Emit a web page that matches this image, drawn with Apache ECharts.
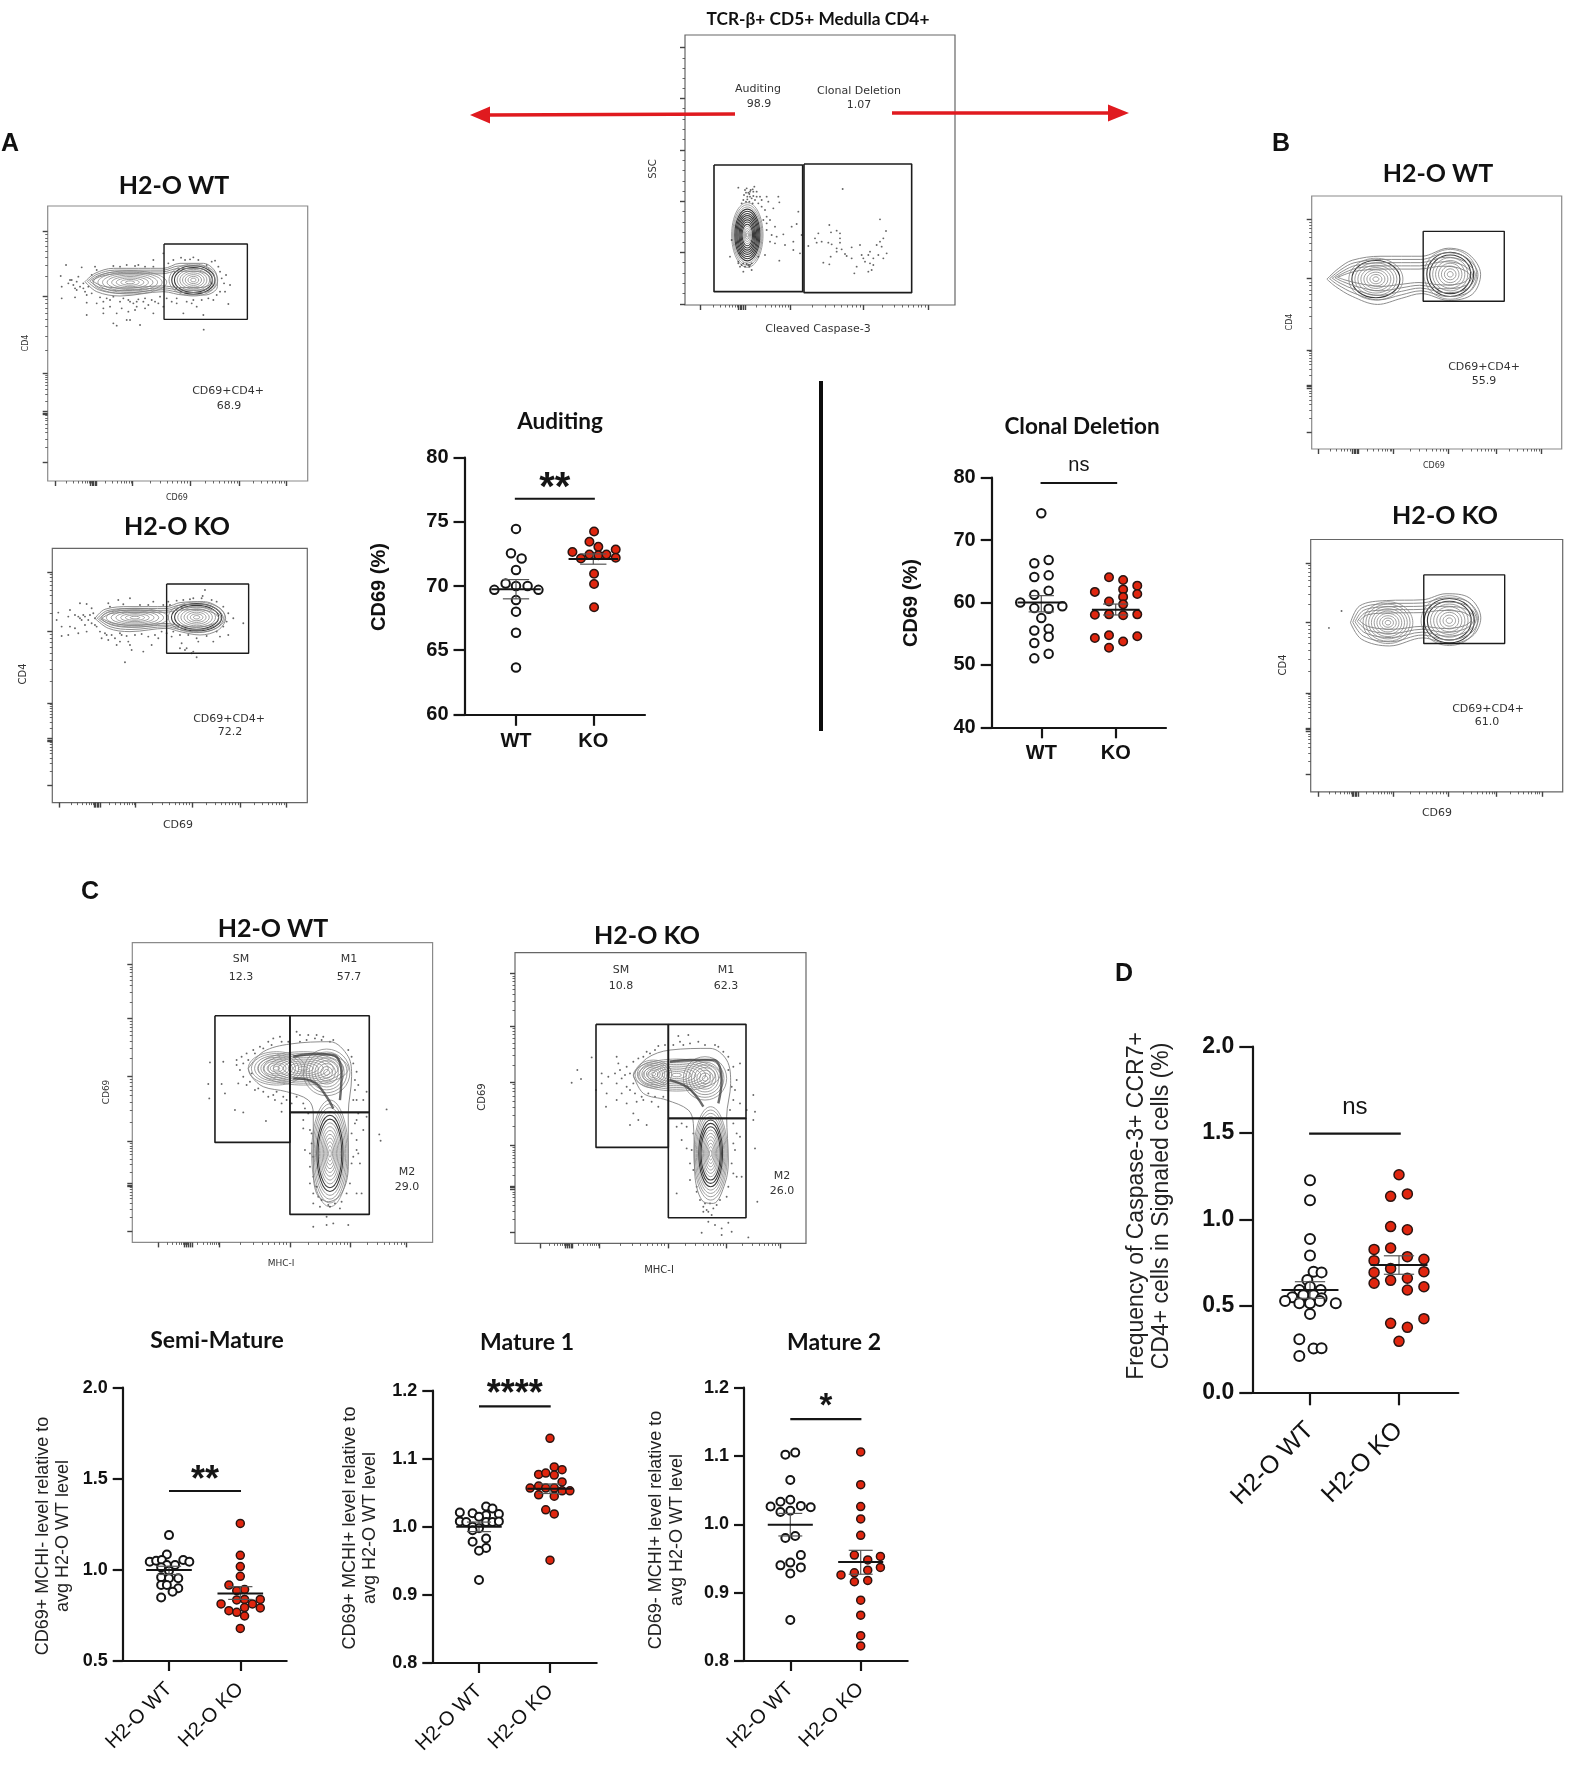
<!DOCTYPE html>
<html>
<head>
<meta charset="utf-8">
<title>H2-O thymocyte panels</title>
<script src="https://cdn.jsdelivr.net/npm/echarts@6/dist/echarts.min.js"></script>
<style>
  html, body { margin: 0; padding: 0; background: #fff; }
  #main { width: 1575px; height: 1766px; }
</style>
</head>
<body>
<div id="main"></div>
<script>
// ---- dot plot values: [offset from the group centre, value] ----
const groupNames = ['WT', 'KO'];
const longGroupNames = ['H2-O WT', 'H2-O KO'];

const auditingWT = [[0,74.45],[-.065,72.55],[.073,72.15],[0,71.25],[-.134,70.2],[0,70],[.15,70],[-.28,69.7],[.29,69.7],[0,68.9],[0,68],[0,66.35],[0,63.65]];
const auditingKO = [[.01,74.25],[-.05,73.45],[.065,73.05],[-.27,72.65],[.29,72.85],[-.05,72.45],[.065,72.4],[.17,72.45],[-.16,72.15],[.29,72.2],[.01,70.95],[.01,70.15],[.01,68.35]];
const auditingStats = [[1,69.75,69,70.5],[2,72.1,71.7,72.5]];

const clonalWT = [[0,74.3],[-.094,66.3],[.099,66.8],[-.094,64.1],[.099,64.35],[.099,61.9],[-.094,61.25],[-.283,60],[-.094,59.1],[.099,59],[.283,59.4],[0,57.5],[-.094,55.5],[.099,55.8],[.099,54.5],[-.094,53.5],[.099,51.8],[-.094,51.05]];
const clonalKO = [[-.09,64.05],[.1,63.6],[.29,62.7],[-.28,61.7],[.1,62.1],[.29,61.35],[.1,60.9],[-.09,60.15],[.1,59.7],[-.28,58.05],[-.09,58.1],[.1,57.95],[.29,58.1],[-.28,54.3],[-.09,54.75],[.29,54.6],[.1,53.75],[-.09,52.75]];
const clonalStats = [[1,60,58.5,61.1],[2,58.85,58,59.75]];

const caspaseWT = [[0,1.227],[0,1.111],[0,.887],[0,.791],[.04,.698],[.13,.694],[-.03,.65],[-.12,.592],[0,.611],[.12,.592],[-.2,.55],[-.075,.561],[.04,.561],[.13,.544],[-.28,.528],[-.12,.515],[0,.515],[.11,.528],[.29,.515],[0,.453],[-.12,.307],[.04,.253],[.13,.255],[-.12,.21]];
const caspaseKO = [[0,1.259],[-.094,1.134],[.094,1.148],[-.094,.959],[.094,.941],[-.28,.827],[-.094,.835],[.094,.785],[-.28,.762],[.28,.77],[-.094,.717],[-.28,.694],[.28,.698],[-.094,.648],[-.28,.631],[.094,.66],[.28,.611],[.094,.592],[.28,.426],[-.094,.399],[.094,.376],[0,.295]];
const caspaseStats = [[1,.592,.544,.64],[2,.737,.683,.79]];

const semiWT = [[0,1.191],[-.03,1.085],[-.27,1.045],[-.18,1.05],[-.1,1.054],[.2,1.054],[.285,1.045],[-.03,1.027],[.085,1.027],[-.11,1.014],[0,.995],[-.11,.959],[.13,.954],[0,.954],[-.11,.917],[-.03,.917],[.13,.899],[.05,.88],[-.11,.849]];
const semiKO = [[0,1.255],[0,1.08],[0,1.018],[0,.965],[-.16,.917],[.06,.893],[-.05,.886],[.28,.838],[-.05,.835],[.06,.838],[-.27,.813],[.17,.813],[.06,.793],[.28,.791],[-.16,.776],[-.05,.767],[.06,.747],[0,.679]];
const semiStats = [[1,.999,.975,1.02],[2,.871,.838,.908]];

const mature1WT = [[.1,1.03],[.19,1.027],[-.27,1.021],[-.09,1.02],[.1,1.017],[.28,1.019],[0,1.015],[-.27,1.008],[-.18,1.007],[.1,1.007],[.19,1.007],[.28,1.008],[-.09,1],[0,.998],[-.09,.995],[.1,.983],[-.09,.978],[.1,.969],[0,.965],[0,.922]];
const mature1KO = [[0,1.13],[.06,1.088],[.17,1.084],[-.16,1.077],[-.06,1.079],[.06,1.076],[.17,1.066],[-.28,1.057],[-.16,1.06],[-.06,1.057],[.06,1.057],[.17,1.053],[.28,1.053],[-.16,1.047],[.06,1.045],[-.06,1.025],[.06,1.019],[0,.951]];
const mature1Stats = [[1,1,.993,1.007],[2,1.056,1.049,1.063]];

const mature2WT = [[.07,1.105],[-.07,1.102],[0,1.065],[0,1.036],[-.14,1.033],[-.28,1.026],[.15,1.027],[.29,1.025],[-.14,1.018],[0,1.02],[.07,.983],[-.07,.98],[.15,.955],[0,.944],[-.14,.94],[.15,.937],[0,.928],[0,.86]];
const mature2KO = [[0,1.106],[0,1.058],[0,1.026],[0,1.008],[0,.984],[-.09,.955],[.28,.953],[.1,.948],[.28,.937],[.1,.933],[-.09,.929],[-.28,.926],[.1,.918],[-.09,.916],[0,.889],[0,.867],[0,.837],[0,.822]];
const mature2Stats = [[1,.9995,.983,1.016],[2,.945,.927,.962]];

// ---- flow plots: event positions in each plot's own channel units ----
const topDots = [[235,563],[283,560],[255,570],[270,575],[290,575],[262,590],[275,595],[250,600],[285,600],[268,582],[258,578],[278,568],[260,565],[272,570],[280,575],[265,578],[252,585],[262,598],[270,590],[280,588],[290,590],[258,605],[268,605],[278,610],[245,610],[295,610],[305,620],[315,630],[310,660],[320,670],[235,790],[250,790],[260,792],[270,795],[240,800],[255,800],[268,800],[300,590],[305,600],[320,590],[325,605],[355,590],[358,607],[340,625],[415,635],[320,650],[330,660],[345,680],[320,690],[395,680],[410,672],[335,705],[350,710],[370,703],[330,725],[345,730],[375,735],[400,725],[425,705],[400,750],[420,760],[358,782],[315,765],[295,770],[235,785],[245,795],[265,795],[275,790],[250,815],[275,810],[215,720],[210,770],[240,760],[548,567],[508,675],[660,658],[475,700],[513,697],[530,692],[540,700],[678,693],[465,715],[470,728],[485,725],[505,728],[540,715],[540,728],[445,738],[515,733],[530,745],[545,748],[575,742],[600,735],[555,762],[560,768],[575,775],[605,765],[610,775],[625,765],[630,755],[650,735],[665,740],[670,715],[660,725],[640,775],[655,765],[670,775],[680,760],[590,800],[615,785],[630,790],[640,795],[490,788],[508,793],[583,820],[625,815],[635,810],[530,755],[512,770]];
const aWtDots = [[138,315],[122,348],[125,380],[150,360],[160,375],[185,322],[170,390],[190,385],[125,415],[200,405],[215,345],[165,412],[200,428],[230,430],[250,425],[270,420],[300,425],[330,425],[350,425],[370,425],[395,420],[415,430],[200,465],[250,445],[270,440],[305,445],[330,480],[345,450],[360,495],[290,497],[280,490],[400,460],[430,440],[470,430],[490,460],[515,430],[530,440],[550,465],[551,509],[585,302],[483,293],[510,298],[535,300],[560,315],[600,335],[618,345],[630,375],[615,395],[625,432],[580,420],[320,315],[345,318],[400,300],[430,280],[230,330],[190,370],[180,380],[155,360],[145,370],[170,365],[175,350],[165,385],[195,395],[205,380],[215,400],[240,412],[260,415],[280,410],[310,415],[325,420],[340,430],[355,418],[375,415],[385,435],[405,425],[420,410],[440,415],[455,425],[470,415],[500,425],[520,420],[545,420],[565,415],[590,405],[600,395],[612,370],[605,355],[595,320],[575,305],[520,292],[495,300],[460,300],[445,310],[250,460],[320,480],[325,455],[290,460],[350,440],[375,445],[225,320],[280,318],[300,320],[355,315],[375,320],[400,320]];
const aKoDots = [[115,308],[110,330],[125,350],[150,300],[145,320],[165,315],[180,325],[195,320],[210,315],[225,325],[180,280],[200,282],[215,295],[165,355],[150,350],[125,378],[145,375],[175,370],[200,365],[225,345],[240,365],[245,385],[265,390],[285,385],[290,405],[305,375],[325,395],[335,420],[370,425],[315,457],[395,405],[415,385],[440,370],[455,380],[480,415],[495,420],[515,430],[530,442],[555,240],[548,258],[520,265],[490,270],[400,275],[330,265],[295,270],[265,280],[640,325],[670,340],[625,375],[600,380],[580,395],[535,395],[445,275],[575,270],[175,320],[185,330],[190,315],[205,330],[215,340],[195,345],[220,310],[230,350],[255,370],[275,375],[300,370],[320,378],[345,375],[365,372],[385,380],[405,375],[425,365],[460,365],[480,375],[505,375],[530,385],[560,378],[590,365],[610,350],[620,335],[625,310],[610,290],[590,275],[545,265],[510,268],[470,272],[450,285],[430,285],[385,285],[360,285],[310,283],[270,290],[500,415],[520,425],[485,400],[330,405],[300,395],[260,375]];
const bKoDots = [[185,1048],[147,1090]];
const cWtDots = [[410,480],[425,470],[440,460],[460,450],[480,440],[505,425],[520,415],[540,410],[420,510],[410,495],[430,530],[415,550],[440,555],[465,570],[490,575],[505,590],[525,600],[545,610],[560,600],[370,485],[330,487],[325,552],[328,595],[365,552],[405,630],[430,637],[498,663],[545,635],[375,580],[600,405],[625,405],[650,405],[670,410],[590,395],[690,425],[760,490],[770,515],[765,570],[800,575],[790,600],[770,600],[590,590],[610,610],[610,660],[610,685],[630,690],[615,750],[630,760],[765,670],[790,690],[770,720],[760,770],[780,790],[800,650],[630,850],[640,880],[640,910],[770,880],[785,880],[660,920],[690,920],[720,925],[680,950],[700,970],[640,980],[745,975],[680,975],[860,628],[838,703],[842,722],[430,490],[445,480],[455,520],[450,545],[465,460],[490,445],[515,435],[545,425],[565,425],[475,565],[520,585],[530,575],[550,590],[575,610],[600,425],[620,420],[645,415],[665,420],[700,420],[745,450],[755,470],[765,540],[775,555],[760,600],[775,640],[770,660],[755,700],[770,750],[775,760],[755,790],[650,860],[655,890],[665,900],[685,915],[705,910],[725,905],[740,880],[750,850],[635,700],[635,730],[640,770],[630,800],[640,830],[625,640],[615,625]];
const cKoDots = [[365,442],[322,480],[333,507],[305,518],[440,440],[445,460],[470,470],[490,455],[520,440],[540,430],[565,408],[585,405],[395,490],[415,500],[435,490],[455,505],[470,530],[490,520],[395,520],[410,550],[378,540],[408,590],[440,570],[470,580],[500,575],[520,570],[545,575],[565,590],[580,560],[490,610],[480,645],[530,645],[505,630],[625,378],[655,375],[685,395],[640,405],[745,410],[775,440],[790,470],[810,460],[800,510],[790,570],[810,580],[850,555],[830,600],[855,605],[850,630],[855,715],[810,680],[790,700],[620,650],[635,690],[650,715],[670,670],[620,850],[660,810],[680,845],[700,890],[710,900],[730,895],[770,860],[800,800],[815,800],[862,875],[715,935],[735,945],[775,938],[695,968],[755,955],[785,965],[835,982],[755,975],[450,480],[465,495],[480,490],[480,540],[495,550],[515,560],[535,550],[555,560],[440,520],[455,550],[505,445],[530,425],[555,420],[610,405],[630,395],[660,400],[705,405],[735,405],[760,425],[775,480],[785,530],[795,540],[780,600],[790,640],[800,670],[795,720],[785,760],[790,790],[775,830],[750,870],[740,885],[720,880],[690,870],[680,830],[670,780],[660,760],[665,720],[650,650],[635,640],[705,880],[715,905],[700,905],[725,915]];

// outer contour of each population
const aWtOutline = [[195,365],[225,340],[280,325],[430,325],[480,310],[550,310],[590,345],[592,380],[555,405],[490,405],[430,395],[300,408],[230,395]];
const aKoOutline = [[225,325],[255,298],[330,290],[440,290],[480,278],[550,275],[600,295],[617,325],[595,360],[540,375],[480,365],[440,355],[330,365],[265,355]];
const bWtOutline = [[140,222],[175,195],[215,175],[300,165],[420,165],[500,145],[560,160],[595,210],[570,260],[500,275],[420,258],[360,270],[290,285],[215,265],[165,240]];
const bKoOutline = [[212,1077],[240,1035],[320,1022],[430,1020],[500,1005],[570,1015],[605,1065],[580,1110],[510,1130],[430,1115],[330,1135],[245,1118]];
const cWtOutline = [[445,505],[490,455],[570,432],[690,425],[745,470],[755,530],[745,640],[745,800],[725,880],[685,905],[650,880],[640,800],[640,640],[625,600],[560,575],[490,560],[455,530]];
const cKoOutline = [[490,495],[530,445],[600,420],[720,415],[770,450],[782,520],[770,620],[775,750],[765,820],[730,880],[700,875],[675,800],[670,640],[655,600],[590,570],[520,550]];

// nested contours: [centre x, centre y, x radius, y radius, rings, dark from, dark to]
const topLobes = [[262,705,47,97,15,.3,.85]];
const aWtLobes = [[330,367,110,35,8,2,2],[520,360,73,48,9,.72,.92]];
const aKoLobes = [[345,323,100,28,7,2,2],[530,322,85,46,9,.72,.92]];
const bWtLobes = [[285,222,80,52,9,.8,.95],[505,210,78,62,9,.72,.92]];
const bKoLobes = [[325,1077,75,52,9,2,2],[510,1072,85,62,9,.72,.92]];
const cWtLobes = [[610,505,135,50,9,2,2],[530,505,85,50,9,2,2],[680,517,70,70,8,2,2],[690,760,55,160,14,.58,.72]];
const cKoLobes = [[620,495,130,48,9,2,2],[550,492,55,42,8,2,2],[705,505,65,65,8,2,2],[722,730,50,140,14,.55,.72]];

// dark ridge lines along the bend of the panel C populations
const cWtRidges = [[[580,470],[640,462],[700,465],[725,520],[720,600]],[[580,535],[640,545],[680,590],[700,625]]];
const cKoRidges = [[[600,455],[660,450],[730,450],[755,510],[745,580]],[[600,510],[650,530],[680,560],[700,590]]];

// gates: [x0, y0, x1, y1]
const topGates = [[162,495,428,875],[432,492,755,878]];
const aWtGates = [[432,252,682,478]];
const aKoGates = [[440,222,686,430]];
const bWtGates = [[425,103,665,277]];
const bKoGates = [[433,958,677,1129]];
const cWtGates = [[345,347,570,727],[570,347,808,637],[570,637,808,943]];
const cKoGates = [[378,343,595,712],[595,343,828,625],[595,625,828,923]];

// tick layout of the flow axes, as fractions of the frame
const logXMajor = [.028,.176,.327,.547,.737,.917];
const logYMajor = [.093,.327,.608,.753,.932];
const medXMajor = [.087,.186,.29,.525,.725,.913];
const medYMajor = [.072,.252,.444,.664,.808,.962];
const topXMajor = [.058,.21,.389,.66,.9];
const topYMajor = [.047,.234,.426,.617,.805,.996];
const decadeSteps = [.301,.477,.602,.699,.778,.845,.903,.954];
const linearSteps = [.2,.4,.6,.8];

const ARIAL = '"Liberation Sans", Arial, sans-serif';
const LATO = 'Lato, "Open Sans", sans-serif';
const FLOWFONT = '"DejaVu Sans", sans-serif';

const grids = [], xAxes = [], yAxes = [], series = [], graphics = [];

function text(str, x, y, font, fill, rotation) {
    graphics.push({
        type: 'text', x: x, y: y, rotation: rotation || 0, silent: true,
        style: { text: str, align: 'center', verticalAlign: 'middle', textAlign: 'center', textVerticalAlign: 'middle', font: font, fill: fill || '#111' }
    });
}

function minorsBetween(majors, steps, reversed) {
    const out = [];
    for (let i = 0; i < majors.length - 1; i++) {
        const from = reversed ? majors[i + 1] : majors[i];
        const to = reversed ? majors[i] : majors[i + 1];
        steps.forEach(s => out.push(from + (to - from) * s));
    }
    return out;
}

// one dot plot panel with mean / SEM and the significance bar
function addDotPanel(p) {
    const g = grids.length;
    const w = p.right - p.left;
    const unit = p.tickB - p.tickA;
    const xMin = 1 - (p.tickA - p.left) / unit;
    grids.push({ left: p.left, top: p.top, width: w, height: p.bottom - p.top });
    const axisLine = { onZero: false, lineStyle: { color: '#151515', width: 2.2 } };
    xAxes.push({
        type: 'value', gridIndex: g, min: xMin, max: xMin + w / unit, position: 'bottom',
        axisLine: axisLine, splitLine: { show: false },
        axisTick: { customValues: [1, 2], length: p.tickLen, lineStyle: { color: '#151515', width: 2.2 } },
        axisLabel: {
            customValues: [1, 2], rotate: p.rotate || 0, margin: p.xMargin, color: '#111',
            fontFamily: ARIAL, fontSize: p.xFont, fontWeight: p.rotate ? 'normal' : 'bold',
            formatter: v => p.names[v - 1]
        }
    });
    yAxes.push({
        type: 'value', gridIndex: g, min: p.min, max: p.max, interval: p.interval,
        axisLine: { show: true, onZero: false, lineStyle: { color: '#151515', width: 2.2 } },
        splitLine: { show: false },
        axisTick: { show: true, length: p.tickLen, lineStyle: { color: '#151515', width: 2.2 } },
        axisLabel: {
            margin: p.tickLen + 5, padding: [6, 0, 0, 0], color: '#111', fontFamily: ARIAL, fontSize: p.yFont, fontWeight: 'bold',
            formatter: v => v.toFixed(p.decimals)
        }
    });
    [p.wt, p.ko].forEach((vals, i) => {
        series.push({
            type: 'scatter', xAxisIndex: g, yAxisIndex: g, symbolSize: p.dot, silent: true,
            data: vals.map(d => [i + 1 + d[0], d[1]]),
            itemStyle: i === 0
                ? { color: '#fff', borderColor: '#151515', borderWidth: 2, opacity: 1 }
                : { color: '#e0260f', borderColor: '#2a1512', borderWidth: 1.5, opacity: 1 }
        });
    });
    series.push({
        type: 'custom', xAxisIndex: g, yAxisIndex: g, silent: true, data: p.stats, z: 5,
        renderItem: (params, api) => {
            const c = api.value(0), lo = api.value(2), hi = api.value(3), m = api.value(1);
            const seg = (x1, y1, x2, y2, col, lw) => {
                const a = api.coord([x1, y1]), b = api.coord([x2, y2]);
                return { type: 'line', shape: { x1: a[0], y1: a[1], x2: b[0], y2: b[1] }, style: { stroke: col, lineWidth: lw } };
            };
            return { type: 'group', children: [
                seg(c, lo, c, hi, '#555', 1.2),
                seg(c - .17, lo, c + .17, lo, '#555', 1.2),
                seg(c - .17, hi, c + .17, hi, '#555', 1.2),
                seg(c - .32, m, c + .32, m, '#151515', 2)
            ] };
        }
    });
    // significance bar with its mark
    series.push({
        type: 'line', xAxisIndex: g, yAxisIndex: g, silent: true, symbol: 'none',
        data: [[p.bar[0], p.bar[2]], [p.bar[1], p.bar[2]]],
        lineStyle: { color: '#151515', width: 2.2 }
    });
    series.push({
        type: 'custom', xAxisIndex: g, yAxisIndex: g, silent: true,
        data: [[(p.bar[0] + p.bar[1]) / 2, p.bar[2]]],
        renderItem: (params, api) => {
            const c = api.coord([api.value(0), api.value(1)]);
            return {
                type: 'text', x: c[0], y: c[1] - p.markGap,
                style: { text: p.mark, align: 'center', verticalAlign: 'middle', textAlign: 'center', textVerticalAlign: 'middle', font: p.markFont, fill: '#151515' }
            };
        }
    });
}

// one flow cytometry plot: frame, log ticks, contours, events and gates
function addFlowPlot(p) {
    const g = grids.length;
    const xFrac = f => p.x[0] + f * (p.x[1] - p.x[0]);
    const yFrac = f => p.y[0] + f * (p.y[1] - p.y[0]);
    grids.push({ left: p.rect[0], top: p.rect[1], width: p.rect[2], height: p.rect[3], show: true, borderColor: p.frame || '#8a8a8a', borderWidth: 1.2, backgroundColor: '#fff' });
    const axisIdx = xAxes.length;
    const tick = (vals, len, w) => ({ show: true, customValues: vals, length: len, lineStyle: { color: '#444', width: w } });
    const base = { type: 'value', gridIndex: g, axisLine: { show: false, onZero: false }, axisLabel: { show: false }, splitLine: { show: false } };
    const xMajors = p.xMajor.map(xFrac).concat([xFrac(p.xMajor[1] - .006), xFrac(p.xMajor[1] + .006), xFrac(p.xMajor[1] - .012), xFrac(p.xMajor[1] + .012)]);
    const yMajors = p.yMajor.map(yFrac);
    if (p.yThick !== undefined) yMajors.push(yFrac(p.yMajor[p.yThick] - .006), yFrac(p.yMajor[p.yThick] + .006));
    xAxes.push(Object.assign({}, base, { min: p.x[0], max: p.x[1], position: 'bottom', axisTick: tick(xMajors, 5, 1.4) }));
    xAxes.push(Object.assign({}, base, { min: p.x[0], max: p.x[1], position: 'bottom', axisTick: tick(minorsBetween(p.xMajor, decadeSteps).map(xFrac), 2.5, .8) }));
    yAxes.push(Object.assign({}, base, { min: p.y[0], max: p.y[1], inverse: true, position: 'left', axisTick: tick(yMajors, 5, 1.4) }));
    yAxes.push(Object.assign({}, base, { min: p.y[0], max: p.y[1], inverse: true, position: 'left', axisTick: tick(minorsBetween(p.yMajor, p.ySteps || decadeSteps, !p.ySteps).map(yFrac), 2.5, .8) }));
    const on = { xAxisIndex: axisIdx, yAxisIndex: axisIdx };

    const closed = pts => pts.concat([pts[0]]);
    if (p.outline) {
        const xs = p.outline.map(d => d[0]), ys = p.outline.map(d => d[1]);
        const mx = (Math.min(...xs) + Math.max(...xs)) / 2, my = (Math.min(...ys) + Math.max(...ys)) / 2;
        // inner copies of the outer contour: the lines that run between the two lobes
        for (let i = 0; i <= (p.outlineRings || 0); i++) {
            const pts = p.outline.map(d => [mx + (d[0] - mx) * (1 - .035 * i), my + (d[1] - my) * (1 - .16 * i)]);
            series.push(Object.assign({ type: 'line', symbol: 'none', smooth: .35, silent: true, data: closed(pts), lineStyle: { color: '#808080', width: .9 } }, on));
        }
    }
    series.push(Object.assign({
        type: 'custom', silent: true, data: p.lobes,
        renderItem: (params, api) => {
            const cx = api.value(0), cy = api.value(1), rx = api.value(2), ry = api.value(3), n = api.value(4), d0 = api.value(5), d1 = api.value(6);
            const c = api.coord([cx, cy]);
            const sx = Math.abs(api.coord([cx + rx, cy])[0] - c[0]);
            const sy = Math.abs(api.coord([cx, cy + ry])[1] - c[1]);
            const rings = [];
            for (let i = n; i >= 1; i--) {
                const t = i / n;
                const dark = t >= d0 && t <= d1;
                rings.push({ type: 'ellipse', shape: { cx: c[0], cy: c[1], rx: sx * t, ry: sy * t }, style: { fill: 'none', stroke: dark ? '#3a3a3a' : '#858585', lineWidth: dark ? 1.1 : .8 } });
            }
            return { type: 'group', children: rings };
        }
    }, on));
    (p.ridges || []).forEach(r => {
        series.push(Object.assign({ type: 'line', symbol: 'none', smooth: .4, silent: true, data: r, lineStyle: { color: '#3a3a3a', width: 2.4, opacity: .75 } }, on));
    });
    if (p.dots) {
        series.push(Object.assign({ type: 'scatter', symbolSize: 1.9, silent: true, data: p.dots, itemStyle: { color: '#333', opacity: .75 } }, on));
    }
    p.gates.forEach(b => {
        series.push(Object.assign({
            type: 'line', symbol: 'none', silent: true,
            data: [[b[0], b[1]], [b[2], b[1]], [b[2], b[3]], [b[0], b[3]], [b[0], b[1]]],
            lineStyle: { color: '#1c1c1c', width: p.gateWidth || 1.4 }
        }, on));
    });
}

// ---- dot plots ----
addDotPanel({ left: 465, right: 645, top: 457.7, bottom: 714.3, tickA: 516, tickB: 593.3, min: 60, max: 80, interval: 5, decimals: 0, tickLen: 11.5, xMargin: 17, xFont: 20, yFont: 20, dot: 8.5, names: groupNames, wt: auditingWT, ko: auditingKO, stats: auditingStats, bar: [.985, 2.02, 76.8], mark: '**', markFont: 'bold 40px ' + ARIAL, markGap: 10 });
addDotPanel({ left: 991.7, right: 1166, top: 477.7, bottom: 727.3, tickA: 1041.3, tickB: 1115.7, min: 40, max: 80, interval: 10, decimals: 0, tickLen: 11, xMargin: 16, xFont: 20, yFont: 20, dot: 8.5, names: groupNames, wt: clonalWT, ko: clonalKO, stats: clonalStats, bar: [.99, 2.02, 79.15], mark: 'ns', markFont: '20px ' + ARIAL, markGap: 18 });
addDotPanel({ left: 1252.3, right: 1458.3, top: 1046.7, bottom: 1392.3, tickA: 1310, tickB: 1399, min: 0, max: 2, interval: .5, decimals: 1, tickLen: 13, xMargin: 34, xFont: 25, yFont: 23, dot: 10, rotate: 45, names: longGroupNames, wt: caspaseWT, ko: caspaseKO, stats: caspaseStats, bar: [.99, 2.02, 1.497], mark: 'ns', markFont: '24px ' + ARIAL, markGap: 26 });
addDotPanel({ left: 122.7, right: 286.7, top: 1387.7, bottom: 1661, tickA: 169, tickB: 240.3, min: .5, max: 2, interval: .5, decimals: 1, tickLen: 10, xMargin: 25, xFont: 20, yFont: 18, dot: 8, rotate: 45, names: longGroupNames, wt: semiWT, ko: semiKO, stats: semiStats, bar: [1, 2.01, 1.433], mark: '**', markFont: 'bold 36px ' + ARIAL, markGap: 10 });
addDotPanel({ left: 432.3, right: 596.7, top: 1390.7, bottom: 1663, tickA: 479, tickB: 550, min: .8, max: 1.2, interval: .1, decimals: 1, tickLen: 10, xMargin: 25, xFont: 20, yFont: 18, dot: 8, rotate: 45, names: longGroupNames, wt: mature1WT, ko: mature1KO, stats: mature1Stats, bar: [1, 2.01, 1.177], mark: '****', markFont: 'bold 36px ' + ARIAL, markGap: 11 });
addDotPanel({ left: 744, right: 907.7, top: 1387.7, bottom: 1661, tickA: 790.3, tickB: 860.7, min: .8, max: 1.2, interval: .1, decimals: 1, tickLen: 10, xMargin: 25, xFont: 20, yFont: 18, dot: 8, rotate: 45, names: longGroupNames, wt: mature2WT, ko: mature2KO, stats: mature2Stats, bar: [1, 2.01, 1.154], mark: '*', markFont: 'bold 33px ' + ARIAL, markGap: 12 });

// ---- flow plots ----
addFlowPlot({ rect: [685, 35, 270, 270], x: [75, 885], y: [105, 915], xMajor: topXMajor, yMajor: topYMajor, ySteps: linearSteps, frame: '#666', lobes: topLobes, dots: topDots, gates: topGates, gateWidth: 1.6 });
addFlowPlot({ rect: [47.7, 206, 260, 275], x: [83, 863], y: [138, 963], xMajor: logXMajor, yMajor: logYMajor, yThick: 3, outline: aWtOutline, outlineRings: 3, lobes: aWtLobes, dots: aWtDots, gates: aWtGates });
addFlowPlot({ rect: [52.3, 548.3, 255, 254.3], x: [97, 862], y: [115, 878], xMajor: logXMajor, yMajor: logYMajor, yThick: 3, frame: '#666', outline: aKoOutline, outlineRings: 3, lobes: aKoLobes, dots: aKoDots, gates: aKoGates });
addFlowPlot({ rect: [1311.7, 196, 250, 253], x: [95, 835], y: [15, 645], xMajor: logXMajor, yMajor: logYMajor, yThick: 3, outline: bWtOutline, outlineRings: 4, lobes: bWtLobes, gates: bWtGates });
addFlowPlot({ rect: [1310.7, 539.5, 252, 252.3], x: [92, 852], y: [870, 1498], xMajor: logXMajor, yMajor: logYMajor, yThick: 3, frame: '#666', outline: bKoOutline, outlineRings: 4, lobes: bKoLobes, dots: bKoDots, gates: bKoGates });
addFlowPlot({ rect: [132.3, 942.7, 300.3, 299.7], x: [97, 998], y: [128, 1027], xMajor: medXMajor, yMajor: medYMajor, yThick: 4, outline: cWtOutline, lobes: cWtLobes, ridges: cWtRidges, dots: cWtDots, gates: cWtGates, gateWidth: 1.6 });
addFlowPlot({ rect: [515, 952.7, 291, 290.7], x: [135, 1008], y: [128, 1000], xMajor: medXMajor, yMajor: medYMajor, yThick: 4, frame: '#666', outline: cKoOutline, lobes: cKoLobes, ridges: cKoRidges, dots: cKoDots, gates: cKoGates, gateWidth: 1.6 });

// ---- titles and labels ----
const flowFont = size => size + 'px ' + FLOWFONT;
text('A', 10, 144, 'bold 25px ' + ARIAL);
text('B', 1281, 144, 'bold 25px ' + ARIAL);
text('C', 90, 892, 'bold 25px ' + ARIAL);
text('D', 1124, 974, 'bold 25px ' + ARIAL);

text('TCR-β+ CD5+ Medulla CD4+', 818, 19, 'bold 17.3px ' + LATO);
text('Auditing', 758, 89, flowFont(11), '#333');
text('98.9', 759, 104, flowFont(11), '#333');
text('Clonal Deletion', 859, 91, flowFont(11), '#333');
text('1.07', 859, 105, flowFont(11), '#333');
text('Cleaved Caspase-3', 818, 329, flowFont(11), '#333');
text('SSC', 653, 169, flowFont(10), '#333', Math.PI / 2);

text('H2-O WT', 174, 186, 'bold 25px ' + LATO);
text('CD69+CD4+', 228, 391, flowFont(11), '#333');
text('68.9', 229, 406, flowFont(11), '#333');
text('CD4', 26, 343, flowFont(8), '#333', Math.PI / 2);
text('CD69', 177, 498, flowFont(8), '#333');

text('H2-O KO', 177, 527, 'bold 25px ' + LATO);
text('CD69+CD4+', 229, 719, flowFont(11), '#333');
text('72.2', 230, 732, flowFont(11), '#333');
text('CD4', 23, 674, flowFont(10), '#333', Math.PI / 2);
text('CD69', 178, 825, flowFont(11), '#333');

text('H2-O WT', 1438, 174, 'bold 25px ' + LATO);
text('CD69+CD4+', 1484, 367, flowFont(11), '#333');
text('55.9', 1484, 381, flowFont(11), '#333');
text('CD4', 1290, 322, flowFont(8), '#333', Math.PI / 2);
text('CD69', 1434, 466, flowFont(8), '#333');

text('H2-O KO', 1445, 516, 'bold 25px ' + LATO);
text('CD69+CD4+', 1488, 709, flowFont(11), '#333');
text('61.0', 1487, 722, flowFont(11), '#333');
text('CD4', 1283, 665, flowFont(10), '#333', Math.PI / 2);
text('CD69', 1437, 813, flowFont(11), '#333');

text('H2-O WT', 273, 929, 'bold 25px ' + LATO);
text('SM', 241, 959, flowFont(11), '#333');
text('12.3', 241, 977, flowFont(11), '#333');
text('M1', 349, 959, flowFont(11), '#333');
text('57.7', 349, 977, flowFont(11), '#333');
text('M2', 407, 1172, flowFont(11), '#333');
text('29.0', 407, 1187, flowFont(11), '#333');
text('CD69', 107, 1092, flowFont(9), '#333', Math.PI / 2);
text('MHC-I', 281, 1264, flowFont(9), '#333');

text('H2-O KO', 647, 936, 'bold 25px ' + LATO);
text('SM', 621, 970, flowFont(11), '#333');
text('10.8', 621, 986, flowFont(11), '#333');
text('M1', 726, 970, flowFont(11), '#333');
text('62.3', 726, 986, flowFont(11), '#333');
text('M2', 782, 1176, flowFont(11), '#333');
text('26.0', 782, 1191, flowFont(11), '#333');
text('CD69', 482, 1097, flowFont(10), '#333', Math.PI / 2);
text('MHC-I', 659, 1270, flowFont(10), '#333');

text('Auditing', 560, 422, 'bold 22.5px ' + LATO);
text('Clonal Deletion', 1082, 427, 'bold 22.5px ' + LATO);
text('Semi-Mature', 217, 1341, 'bold 23px ' + LATO);
text('Mature 1', 527, 1343, 'bold 23px ' + LATO);
text('Mature 2', 834, 1343, 'bold 23px ' + LATO);

text('CD69 (%)', 379, 587, 'bold 20px ' + ARIAL, '#111', Math.PI / 2);
text('CD69 (%)', 911, 603, 'bold 20px ' + ARIAL, '#111', Math.PI / 2);
text('Frequency of Caspase-3+ CCR7+', 1137, 1206, '23px ' + ARIAL, '#222', Math.PI / 2);
text('CD4+ cells in Signaled cells (%)', 1162, 1206, '23px ' + ARIAL, '#222', Math.PI / 2);
text('CD69+ MCHI- level relative to', 43, 1536, '18px ' + ARIAL, '#222', Math.PI / 2);
text('avg H2-O WT level', 63, 1536, '18px ' + ARIAL, '#222', Math.PI / 2);
text('CD69+ MCHI+ level relative to', 350, 1528, '18px ' + ARIAL, '#222', Math.PI / 2);
text('avg H2-O WT level', 370, 1528, '18px ' + ARIAL, '#222', Math.PI / 2);
text('CD69- MCHI+ level relative to', 656, 1530, '18px ' + ARIAL, '#222', Math.PI / 2);
text('avg H2-O WT level', 677, 1530, '18px ' + ARIAL, '#222', Math.PI / 2);

// red arrows out of the gating plot and the divider between the two dot plots
const RED = '#e01a1f';
graphics.push({ type: 'line', silent: true, shape: { x1: 735, y1: 114, x2: 488, y2: 115 }, style: { stroke: RED, lineWidth: 3.6 } });
graphics.push({ type: 'polygon', silent: true, shape: { points: [[470, 115], [490, 106.5], [490, 123.5]] }, style: { fill: RED } });
graphics.push({ type: 'line', silent: true, shape: { x1: 892, y1: 113, x2: 1110, y2: 113 }, style: { stroke: RED, lineWidth: 3.6 } });
graphics.push({ type: 'polygon', silent: true, shape: { points: [[1129, 113], [1108, 104.5], [1108, 121.5]] }, style: { fill: RED } });
graphics.push({ type: 'line', silent: true, shape: { x1: 821, y1: 381, x2: 821, y2: 731 }, style: { stroke: '#0d0d0d', lineWidth: 4 } });

const chart = echarts.init(document.getElementById('main'));
chart.setOption({
    backgroundColor: '#fff',
    animation: false,
    grid: grids,
    xAxis: xAxes,
    yAxis: yAxes,
    series: series,
    graphic: { elements: graphics }
});
</script>
</body>
</html>
